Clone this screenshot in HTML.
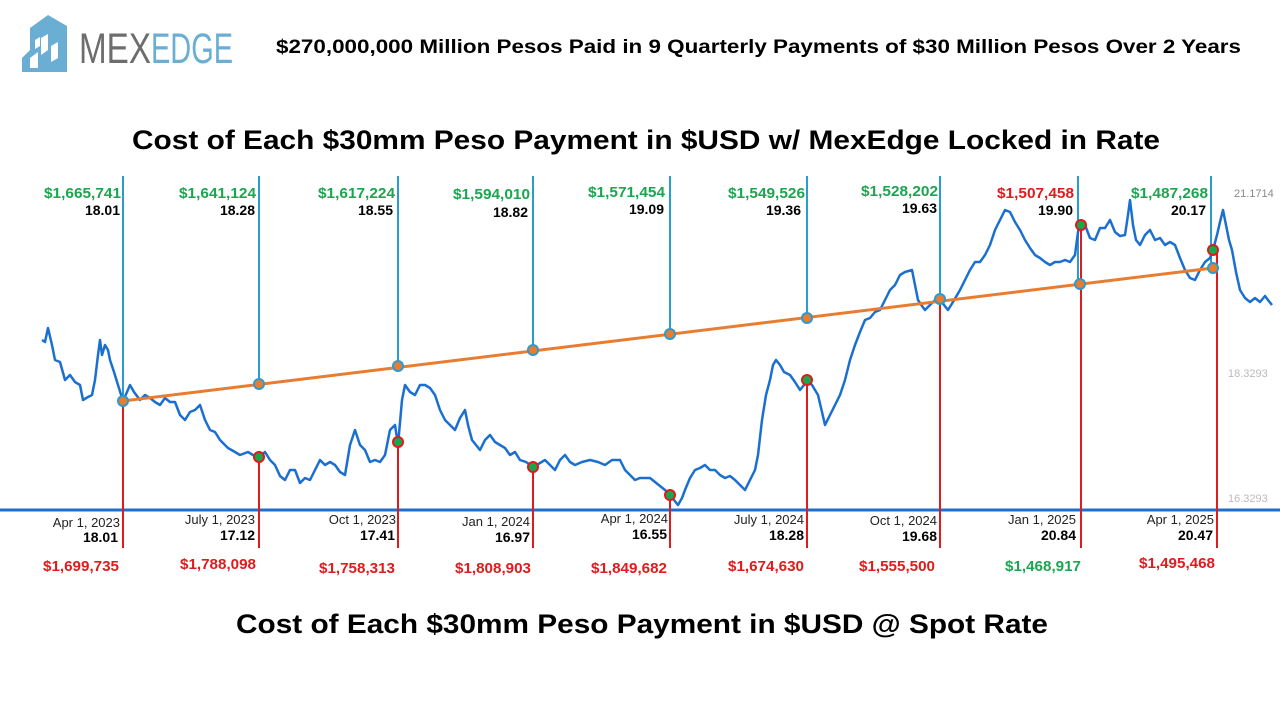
<!DOCTYPE html>
<html><head><meta charset="utf-8"><style>
body{margin:0;width:1280px;height:720px;background:#fff;overflow:hidden;font-family:"Liberation Sans",sans-serif}
</style></head><body>
<svg width="1280" height="720" xmlns="http://www.w3.org/2000/svg" font-family="Liberation Sans, sans-serif">
<!-- logo -->
<path d="M22,72 L22,58 L30,50 L30,28 L48,15 L67,26 L67,72 Z" fill="#6aafd3"/>
<path d="M30,58 L38,52 L38,68 L30,68Z M41,38 L48,34 L48,50 L41,55Z M51,46 L58,42 L58,58 L51,62Z M35,40 L40,37 L40,46 L35,49Z" fill="#fff"/>
<text x="79" y="63" font-size="43" fill="#6d6d6d" textLength="72" lengthAdjust="spacingAndGlyphs">MEX</text>
<text x="151" y="63" font-size="43" fill="#6aafd3" textLength="82" lengthAdjust="spacingAndGlyphs">EDGE</text>
<text x="276" y="53" font-size="19" font-weight="bold" fill="#000" textLength="965" lengthAdjust="spacingAndGlyphs">$270,000,000 Million Pesos Paid in 9 Quarterly Payments of $30 Million Pesos Over 2 Years</text>
<text x="646" y="149" font-size="27" font-weight="bold" text-anchor="middle" textLength="1028" lengthAdjust="spacingAndGlyphs">Cost of Each $30mm Peso Payment in $USD w/ MexEdge Locked in Rate</text>
<text x="642" y="633" font-size="27" font-weight="bold" text-anchor="middle" textLength="812" lengthAdjust="spacingAndGlyphs">Cost of Each $30mm Peso Payment in $USD @ Spot Rate</text>
<!-- axis labels -->
<g font-size="11" fill="#bbb"><text x="1234" y="197" fill="#888">21.1714</text><text x="1228" y="377">18.3293</text><text x="1228" y="502">16.3293</text></g>
<line x1="0" y1="510" x2="1280" y2="510" stroke="#1a6fd1" stroke-width="3"/>
<!-- blue verticals -->
<g stroke="#2a9ccf" stroke-width="2">
<line x1="123" y1="176" x2="123" y2="401"/><line x1="259" y1="176" x2="259" y2="384"/><line x1="398" y1="176" x2="398" y2="366"/><line x1="533" y1="176" x2="533" y2="350"/><line x1="670" y1="176" x2="670" y2="334"/><line x1="807" y1="176" x2="807" y2="318"/><line x1="940" y1="176" x2="940" y2="299"/><line x1="1078" y1="176" x2="1078" y2="284"/><line x1="1211" y1="176" x2="1211" y2="268"/>
</g>
<polyline fill="none" stroke="#1a6fd1" stroke-width="2.5" stroke-linejoin="round" points="42,340 45,342 48,328 52,345 55,360 60,362 65,380 70,375 75,382 80,385 83,400 88,397 92,395 95,380 98,355 100,340 102,355 105,345 108,350 110,360 114,372 118,385 123,401 127,392 130,385 134,392 140,400 145,395 150,398 155,402 160,405 165,398 170,402 175,402 180,415 185,420 190,412 195,410 200,405 205,420 210,430 215,432 220,440 228,448 235,452 240,455 248,452 253,455 259,457 265,452 270,460 275,465 280,476 285,480 290,470 295,470 300,483 305,478 310,480 315,470 320,460 325,465 330,462 335,465 340,472 345,475 350,445 355,430 360,445 365,450 370,462 375,460 380,462 385,455 390,430 395,425 398,445 402,400 405,385 410,392 415,395 420,385 425,385 430,388 435,395 440,410 445,420 450,425 455,430 460,418 465,410 468,425 472,440 476,445 480,450 485,440 490,435 495,442 500,445 505,448 510,455 515,452 520,460 526,462 533,467 540,463 545,460 550,465 555,470 560,460 565,455 570,462 575,465 582,462 590,460 598,462 605,465 612,460 620,460 625,470 630,475 635,480 640,478 645,478 650,478 655,482 660,486 665,490 670,495 674,500 678,505 682,498 685,490 690,478 695,470 700,468 705,465 710,470 715,470 720,475 725,478 730,476 735,480 740,485 745,490 750,480 755,470 758,455 762,420 766,395 770,380 773,365 776,360 780,365 784,372 790,375 795,382 800,390 804,385 807,380 812,385 815,390 818,395 822,412 825,425 830,415 835,405 840,395 845,380 850,360 855,345 860,332 865,320 870,318 875,312 880,310 885,300 890,290 895,285 900,275 905,272 912,270 915,285 918,300 922,306 925,310 930,305 935,300 940,299 944,305 948,310 953,302 960,290 965,280 970,270 975,262 980,262 985,255 990,245 995,230 1000,220 1005,210 1010,212 1015,222 1020,230 1025,240 1030,248 1035,255 1040,258 1045,262 1050,265 1055,262 1060,262 1065,260 1070,262 1075,255 1078,232 1081,222 1085,225 1090,238 1095,240 1100,228 1105,228 1110,220 1115,232 1120,236 1125,235 1128,215 1130,200 1133,225 1136,240 1140,245 1145,235 1150,230 1155,240 1160,238 1165,245 1170,242 1175,245 1180,258 1185,270 1190,278 1195,280 1200,270 1205,262 1210,258 1213,250 1217,235 1220,222 1223,210 1226,225 1229,240 1232,250 1236,272 1240,290 1245,298 1250,302 1255,298 1260,302 1265,296 1268,300 1272,305"/>
<line x1="123" y1="401" x2="1213" y2="268" stroke="#e87c30" stroke-width="3"/>
<!-- red verticals -->
<g stroke="#e01b1b" stroke-width="2">
<line x1="123" y1="401" x2="123" y2="548"/><line x1="259" y1="457" x2="259" y2="548"/><line x1="398" y1="442" x2="398" y2="548"/><line x1="533" y1="467" x2="533" y2="548"/><line x1="670" y1="495" x2="670" y2="548"/><line x1="807" y1="380" x2="807" y2="548"/><line x1="940" y1="299" x2="940" y2="548"/><line x1="1081" y1="225" x2="1081" y2="548"/><line x1="1217" y1="250" x2="1217" y2="548"/>
</g>
<!-- orange dots -->
<g fill="#e87c30" stroke="#2a9ccf" stroke-width="2">
<circle cx="123" cy="401" r="5"/><circle cx="259" cy="384" r="5"/><circle cx="398" cy="366" r="5"/><circle cx="533" cy="350" r="5"/><circle cx="670" cy="334" r="5"/><circle cx="807" cy="318" r="5"/><circle cx="940" cy="299" r="5"/><circle cx="1080" cy="284" r="5"/><circle cx="1213" cy="268" r="5"/>
</g>
<g fill="#1aa64e" stroke="#e01b1b" stroke-width="2">
<circle cx="259" cy="457" r="5"/><circle cx="398" cy="442" r="5"/><circle cx="533" cy="467" r="5"/><circle cx="670" cy="495" r="5"/><circle cx="807" cy="380" r="5"/><circle cx="1081" cy="225" r="5"/><circle cx="1213" cy="250" r="5"/>
</g>
<!-- top labels -->
<g font-size="15" font-weight="bold" text-anchor="end" fill="#1aa64e">
<text x="121" y="198" textLength="77" lengthAdjust="spacingAndGlyphs">$1,665,741</text><text x="256" y="198" textLength="77" lengthAdjust="spacingAndGlyphs">$1,641,124</text><text x="395" y="198" textLength="77" lengthAdjust="spacingAndGlyphs">$1,617,224</text><text x="530" y="199" textLength="77" lengthAdjust="spacingAndGlyphs">$1,594,010</text><text x="665" y="197" textLength="77" lengthAdjust="spacingAndGlyphs">$1,571,454</text><text x="805" y="198" textLength="77" lengthAdjust="spacingAndGlyphs">$1,549,526</text><text x="938" y="196" textLength="77" lengthAdjust="spacingAndGlyphs">$1,528,202</text><text x="1074" y="198" fill="#e01b1b" textLength="77" lengthAdjust="spacingAndGlyphs">$1,507,458</text><text x="1208" y="198" textLength="77" lengthAdjust="spacingAndGlyphs">$1,487,268</text>
</g>
<g font-size="14" font-weight="bold" text-anchor="end" fill="#000">
<text x="120" y="215">18.01</text><text x="255" y="215">18.28</text><text x="393" y="215">18.55</text><text x="528" y="217">18.82</text><text x="664" y="214">19.09</text><text x="801" y="215">19.36</text><text x="937" y="213">19.63</text><text x="1073" y="215">19.90</text><text x="1206" y="215">20.17</text>
</g>
<!-- bottom labels -->
<g font-size="13" text-anchor="end" fill="#222">
<text x="120" y="527">Apr 1, 2023</text><text x="255" y="524">July 1, 2023</text><text x="396" y="524">Oct 1, 2023</text><text x="530" y="526">Jan 1, 2024</text><text x="668" y="523">Apr 1, 2024</text><text x="804" y="524">July 1, 2024</text><text x="937" y="525">Oct 1, 2024</text><text x="1076" y="524">Jan 1, 2025</text><text x="1214" y="524">Apr 1, 2025</text>
</g>
<g font-size="14" font-weight="bold" text-anchor="end" fill="#000">
<text x="118" y="542">18.01</text><text x="255" y="540">17.12</text><text x="395" y="540">17.41</text><text x="530" y="542">16.97</text><text x="667" y="539">16.55</text><text x="804" y="540">18.28</text><text x="937" y="541">19.68</text><text x="1076" y="540">20.84</text><text x="1213" y="540">20.47</text>
</g>
<g font-size="15" font-weight="bold" text-anchor="end" fill="#e01b1b">
<text x="119" y="571" textLength="76" lengthAdjust="spacingAndGlyphs">$1,699,735</text><text x="256" y="569" textLength="76" lengthAdjust="spacingAndGlyphs">$1,788,098</text><text x="395" y="573" textLength="76" lengthAdjust="spacingAndGlyphs">$1,758,313</text><text x="531" y="573" textLength="76" lengthAdjust="spacingAndGlyphs">$1,808,903</text><text x="667" y="573" textLength="76" lengthAdjust="spacingAndGlyphs">$1,849,682</text><text x="804" y="571" textLength="76" lengthAdjust="spacingAndGlyphs">$1,674,630</text><text x="935" y="571" textLength="76" lengthAdjust="spacingAndGlyphs">$1,555,500</text><text x="1081" y="571" fill="#1aa64e" textLength="76" lengthAdjust="spacingAndGlyphs">$1,468,917</text><text x="1215" y="568" textLength="76" lengthAdjust="spacingAndGlyphs">$1,495,468</text>
</g>
</svg>
</body></html>
